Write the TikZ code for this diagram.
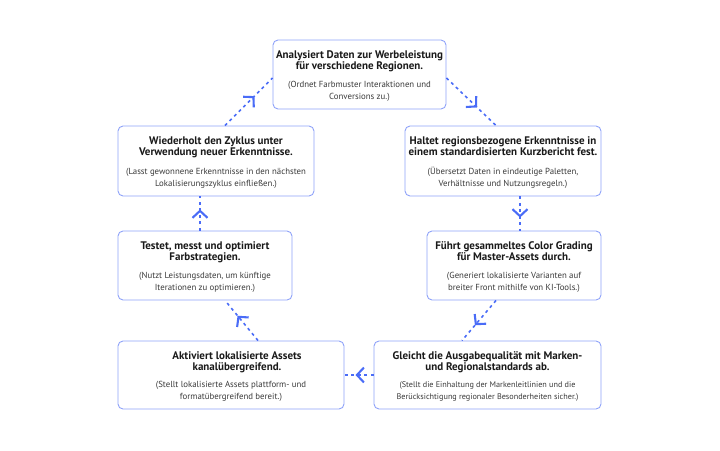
\documentclass[tikz,border=0pt]{standalone}
\usepackage{fontspec}
\setmainfont{PT Sans}
\usetikzlibrary{arrows.meta,decorations.markings}
\definecolor{linec}{HTML}{4A6CF7}
\definecolor{boxc}{HTML}{8FA3F9}
\definecolor{titc}{HTML}{1A1A1A}
\definecolor{subc}{HTML}{3A3A3A}
\tikzset{
  stepbox/.style={draw=boxc, line width=0.9pt, rounded corners=5pt, fill=white, inner sep=0pt},
  ttl/.style={anchor=north, inner sep=0pt, align=center, text=titc,
    font=\fontsize{11}{10.4}\selectfont\bfseries},
  sub/.style={anchor=south, inner sep=0pt, align=center, text=subc,
    font=\fontsize{8.8}{12.5}\selectfont},
  subsmall/.style={sub, font=\fontsize{8.2}{12.5}\selectfont},
  flow/.style={draw=linec, line width=1.6pt, dash pattern=on 3pt off 3.5pt,
    postaction={decorate}, decoration={markings, mark=at position 0.62 with
      {\arrow[solid,line width=2.1pt]{Straight Barb[length=7pt,width=15pt]}}}},
}
\newcommand{\tstrut}{\rule{0pt}{8.5pt}}
\newcommand{\bstrut}{\rule[-2.5pt]{0pt}{2.5pt}}
\begin{document}
\begin{tikzpicture}[x=1pt,y=-1pt]
\useasboundingbox (0,0) rectangle (720,450);
% boxes
\node[stepbox, minimum width=173pt, minimum height=69pt] (A) at (359.5,74.5) {};
\node[stepbox, minimum width=196pt, minimum height=70pt] (B) at (503,161) {};
\node[stepbox, minimum width=174pt, minimum height=69pt] (C) at (514,265.5) {};
\node[stepbox, minimum width=227pt, minimum height=68pt] (D) at (487.5,375) {};
\node[stepbox, minimum width=226pt, minimum height=68pt] (E) at (231,375) {};
\node[stepbox, minimum width=174pt, minimum height=69pt] (F) at (205,265.5) {};
\node[stepbox, minimum width=196pt, minimum height=70pt] (G) at (216,161) {};
% texts
\node[ttl] (At) at ([yshift=-10.5pt]A.north) {\tstrut Analysiert Daten zur Werbeleistung\\für verschiedene Regionen.};
\node[sub] (As) at ([yshift=7pt]A.south) {(Ordnet Farbmuster Interaktionen und\\Conversions zu.)\bstrut};
\node[ttl] (Bt) at ([yshift=-10.5pt]B.north) {\tstrut Haltet regionsbezogene Erkenntnisse in\\einem standardisierten Kurzbericht fest.};
\node[sub] (Bs) at ([yshift=7pt]B.south) {(Übersetzt Daten in eindeutige Paletten,\\Verhältnisse und Nutzungsregeln.)\bstrut};
\node[ttl] (Ct) at ([yshift=-10.5pt]C.north) {\tstrut Führt gesammeltes Color Grading\\für Master-Assets durch.};
\node[sub] (Cs) at ([yshift=7pt]C.south) {(Generiert lokalisierte Varianten auf\\breiter Front mithilfe von KI-Tools.)\bstrut};
\node[ttl] (Dt) at ([yshift=-10.5pt]D.north) {\tstrut Gleicht die Ausgabequalität mit Marken-\\und Regionalstandards ab.};
\node[subsmall] (Ds) at ([yshift=7pt]D.south) {(Stellt die Einhaltung der Markenleitlinien und die\\Berücksichtigung regionaler Besonderheiten sicher.)\bstrut};
\node[ttl] (Et) at ([yshift=-10.5pt,xshift=6pt]E.north) {\tstrut Aktiviert lokalisierte Assets\\kanalübergreifend.};
\node[sub] (Es) at ([yshift=7pt]E.south) {(Stellt lokalisierte Assets plattform- und\\formatübergreifend bereit.)\bstrut};
\node[ttl] (Ft) at ([yshift=-10.5pt]F.north) {\tstrut Testet, messt und optimiert\\Farbstrategien.};
\node[sub] (Fs) at ([yshift=7pt]F.south) {(Nutzt Leistungsdaten, um künftige\\Iterationen zu optimieren.)\bstrut};
\node[ttl] (Gt) at ([yshift=-10.5pt]G.north) {\tstrut Wiederholt den Zyklus unter\\Verwendung neuer Erkenntnisse.};
\node[sub] (Gs) at ([yshift=7pt]G.south) {(Lasst gewonnene Erkenntnisse in den nächsten\\Lokalisierungszyklus einfließen.)\bstrut};
% connectors
\path[flow] ([yshift=-3.5pt]A.east) -- ([xshift=-7pt]B.north);
\path[flow] ([xshift=17pt]B.south) -- ([xshift=17pt]B.south |- C.north);
\path[flow] ([xshift=-18pt]C.south) -- ([xshift=-25.5pt]D.north);
\path[flow] (D.west) -- (E.east);
\path[flow] ([xshift=27pt]E.north) -- ([xshift=20pt]F.south);
\path[flow] ([xshift=-5pt]F.north) -- ([xshift=-5pt]F.north |- G.south);
\path[flow] ([xshift=9pt]G.north) -- ([yshift=-3.5pt]A.west);
\end{tikzpicture}
\end{document}
